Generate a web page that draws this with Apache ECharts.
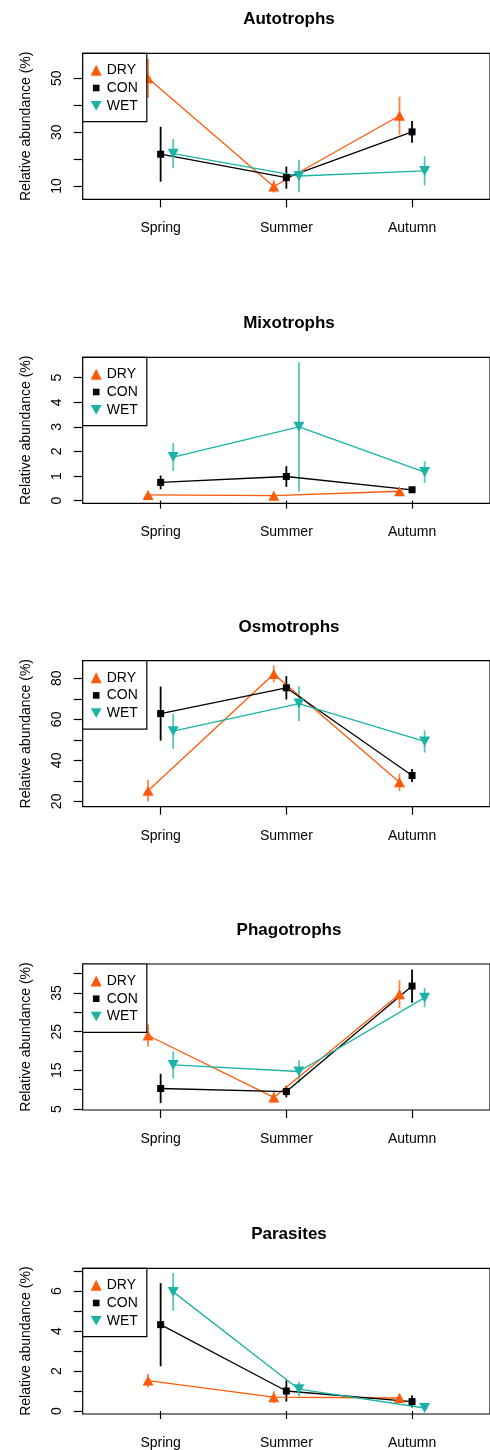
<!DOCTYPE html>
<html>
<head>
    <meta charset="utf-8">
    <title>Relative abundance by season</title>
    <script src="https://cdn.jsdelivr.net/npm/echarts@6/dist/echarts.min.js"></script>
    <style>
        body { margin: 0; background: #fff; }
    </style>
</head>
<body>
    <div id="main" style="width: 490px;height:1450px;"></div>
    <script type="text/javascript">
        var seasons = ['Spring', 'Summer', 'Autumn'];
        var groups = ['DRY', 'CON', 'WET'];
        var panelNames = ['Autotrophs', 'Mixotrophs', 'Osmotrophs', 'Phagotrophs', 'Parasites'];

        // means per group (DRY, CON, WET) x season
        var autotrophsMean = [[50.0, 9.8, 36.1], [21.8, 13.1, 30.1], [22.0, 13.7, 15.6]];
        var autotrophsSe = [[7.3, 2.3, 7.1], [10.2, 4.1, 4.0], [5.4, 6.0, 5.4]];
        var mixotrophsMean = [[0.23, 0.20, 0.38], [0.74, 0.98, 0.44], [1.77, 3.00, 1.16]];
        var mixotrophsSe = [[0.05, 0.04, 0.06], [0.28, 0.42, 0.08], [0.56, 2.63, 0.44]];
        var osmotrophsMean = [[25.2, 82.1, 29.3], [62.8, 75.4, 32.6], [54.2, 67.7, 49.2]];
        var osmotrophsSe = [[5.2, 4.1, 4.3], [13.2, 5.7, 3.2], [8.5, 8.5, 5.4]];
        var phagotrophsMean = [[24.0, 8.0, 34.7], [10.3, 9.5, 36.8], [16.4, 14.7, 33.8]];
        var phagotrophsSe = [[2.9, 1.4, 3.6], [3.8, 1.5, 4.3], [3.5, 2.9, 2.5]];
        var parasitesMean = [[1.52, 0.69, 0.65], [4.32, 1.00, 0.47], [5.96, 1.09, 0.15]];
        var parasitesSe = [[0.35, 0.30, 0.18], [2.08, 0.53, 0.30], [0.94, 0.37, 0.05]];

        // y axis ticks, labels and ranges
        var yTicks = [[10, 20, 30, 40, 50], [0, 1, 2, 3, 4, 5], [20, 30, 40, 50, 60, 70, 80],
            [5, 10, 15, 20, 25, 30, 35, 40], [0, 1, 2, 3, 4, 5, 6, 7]];
        var yLabels = [[10, 30, 50], [0, 1, 2, 3, 4, 5], [20, 40, 60, 80], [5, 15, 25, 35], [0, 2, 4, 6]];
        var yMin = [5.05, -0.11, 17.4, 4.74, -0.15];
        var yMax = [59.3, 5.83, 88.6, 42.5, 7.14];

        var means = [autotrophsMean, mixotrophsMean, osmotrophsMean, phagotrophsMean, parasitesMean];
        var ses = [autotrophsSe, mixotrophsSe, osmotrophsSe, phagotrophsSe, parasitesSe];

        var colors = ['#ff5a0a', '#000000', '#1bb3a6'];
        var dodge = [-0.1, 0, 0.1];
        var downTri = 'path://M0,0L10,0L5,8.66Z';
        var symbols = ['triangle', 'rect', downTri];
        var symbolSizes = [[11, 10], 7, [11, 10]];
        var legendIcons = ['triangle', 'path://M0,0M10,10M2,2h6v6h-6z', downTri];

        var font = 'Liberation Sans, Arial, Helvetica, sans-serif';
        var boxTop = [53.3, 357.3, 660.7, 964, 1268.3];
        var boxH = 146;

        var myChart = echarts.init(document.getElementById('main'));

        var grids = [], xAxes = [], yAxes = [], titles = [], legends = [], series = [];

        boxTop.forEach(function (top, p) {
            grids.push({
                left: 82.7, top: top, width: 412.6, height: boxH,
                show: true, borderColor: '#000', borderWidth: 1.2, backgroundColor: 'transparent'
            });
            xAxes.push({
                type: 'value', gridIndex: p, min: 0.38, max: 3.62,
                axisLine: { show: false },
                splitLine: { show: false },
                axisTick: { show: true, length: 8, customValues: [1, 2, 3], lineStyle: { color: '#000', width: 1.2 } },
                axisLabel: {
                    customValues: [1, 2, 3], margin: 22, color: '#000', fontSize: 14, fontFamily: font,
                    formatter: function (v) { return seasons[Math.round(v) - 1] || ''; }
                }
            });
            yAxes.push({
                type: 'value', gridIndex: p, min: yMin[p], max: yMax[p],
                name: 'Relative abundance (%)', nameLocation: 'middle', nameGap: 50,
                nameTextStyle: { color: '#000', fontSize: 14, fontFamily: font },
                axisLine: { show: false },
                splitLine: { show: false },
                axisTick: { show: true, length: 9, customValues: yTicks[p], lineStyle: { color: '#000', width: 1.2 } },
                axisLabel: {
                    customValues: yLabels[p], rotate: 90, margin: 19, color: '#000', fontSize: 14, fontFamily: font
                }
            });
            titles.push({
                text: panelNames[p], left: 289, textAlign: 'center', top: top - 42, padding: 0,
                textStyle: { fontSize: 17, fontWeight: 'bold', color: '#000', fontFamily: font }
            });
            legends.push({
                left: 82.7, top: top, orient: 'vertical', selectedMode: false,
                padding: [10, 9, 9, 8], itemGap: 3.7, itemWidth: 11, itemHeight: 11,
                borderColor: '#000', borderWidth: 1.2, backgroundColor: '#fff',
                textStyle: { fontSize: 14, color: '#000', fontFamily: font },
                data: groups.map(function (g, i) {
                    return { name: g, icon: legendIcons[i], itemStyle: { color: colors[i] } };
                })
            });

            groups.forEach(function (g, i) {
                var pts = seasons.map(function (s, k) { return [k + 1 + dodge[i], means[p][i][k]]; });
                var bars = seasons.map(function (s, k) {
                    return [k + 1 + dodge[i], means[p][i][k] - ses[p][i][k], means[p][i][k] + ses[p][i][k]];
                });
                series.push({
                    name: g, type: 'custom', xAxisIndex: p, yAxisIndex: p, silent: true, z: 1,
                    data: bars,
                    encode: { x: 0, y: [1, 2] },
                    itemStyle: { color: colors[i] },
                    renderItem: function (params, api) {
                        var a = api.coord([api.value(0), api.value(1)]);
                        var b = api.coord([api.value(0), api.value(2)]);
                        return {
                            type: 'line',
                            shape: { x1: a[0], y1: a[1], x2: b[0], y2: b[1] },
                            style: { stroke: colors[i], lineWidth: 1.8, opacity: i === 1 ? 1 : 0.75 }
                        };
                    }
                });
                series.push({
                    name: g, type: 'line', xAxisIndex: p, yAxisIndex: p, z: 2,
                    data: pts,
                    symbol: symbols[i], symbolSize: symbolSizes[i], showSymbol: true,
                    itemStyle: { color: colors[i] },
                    lineStyle: { color: colors[i], width: 1.3 }
                });
            });
        });

        var option = {
            animation: false,
            backgroundColor: '#fff',
            title: titles,
            legend: legends,
            grid: grids,
            xAxis: xAxes,
            yAxis: yAxes,
            series: series
        };
        myChart.setOption(option);
    </script>
</body>
</html>
